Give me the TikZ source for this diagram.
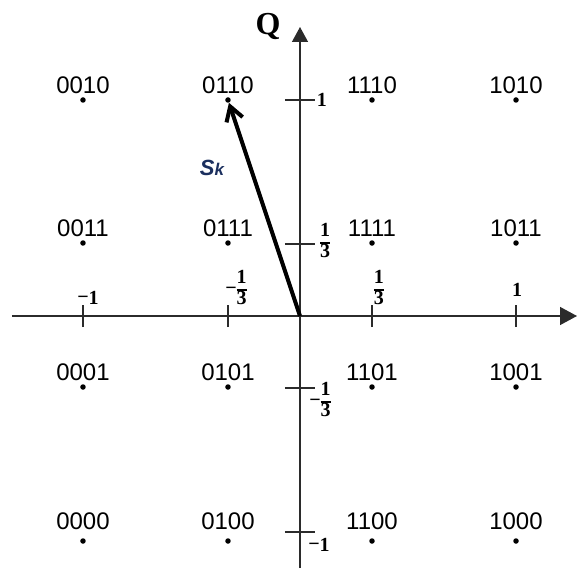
\documentclass[tikz,border=0pt]{standalone}
\usepackage{fontspec}
\setmainfont{Liberation Serif}
\newfontfamily\cwfont{Liberation Sans}
\usetikzlibrary{arrows.meta}
\definecolor{SkBlue}{HTML}{1B2F5E}
\definecolor{AxisGray}{HTML}{2B2B2B}
\newcommand{\stackfrac}[2]{\renewcommand{\arraystretch}{1.0}\setlength{\arrayrulewidth}{1.4pt}\begin{tabular}{@{}c@{}}#1\\\hline #2\end{tabular}}
\newcommand{\negsign}{\raisebox{1pt}{\char"2212}}
\tikzset{
  axisline/.style={line width=1.4pt, AxisGray},
  tickmark/.style={line width=1.2pt, AxisGray},
  sym/.style={circle, fill=black, inner sep=0pt, minimum size=5.5pt},
  cw/.style={font=\cwfont\fontsize{24}{24}\selectfont, inner sep=0pt, label distance=3pt},
  ticklbl/.style={font=\fontsize{20}{20}\selectfont\bfseries, inner sep=0pt},
  fraclbl/.style={font=\fontsize{20}{20}\selectfont\bfseries, inner sep=0pt},
  vec/.style={line width=4pt, -{Straight Barb[length=14pt,width=17pt]}}
}

\begin{document}
\begin{tikzpicture}[x=1pt, y=1pt]
\useasboundingbox (-300,-252) rectangle (281,316);

% axes
\coordinate (o) at (0,0);
\coordinate (xl) at (-288,0);
\coordinate (xr) at (277,0);
\coordinate (yb) at (0,-252);
\coordinate (yt) at (0,289);
\draw[axisline, -{Triangle[length=17pt,width=18pt]}] (xl) -- (xr);
\draw[axisline, -{Triangle[length=15pt,width=16pt]}] (yb) -- (yt);
\node[font=\fontsize{32}{32}\selectfont\bfseries, inner sep=0pt] (qlbl) at (-32,289) {Q};

% ticks on I
\draw[tickmark] (-217,-11) -- (-217,11);
\draw[tickmark] (-72,-11) -- (-72,11);
\draw[tickmark] (72,-11) -- (72,11);
\draw[tickmark] (216,-11) -- (216,11);
\node[ticklbl] (im1) at (-212,18) {\negsign 1};
\node[fraclbl] (im3) at (-64,26) {\negsign\stackfrac{1}{3}};
\node[fraclbl] (ip3) at (79,26) {\stackfrac{1}{3}};
\node[ticklbl] (ip1) at (217,26) {1};

% ticks on Q
\draw[tickmark] (-15,216) -- (15,216);
\draw[tickmark] (-15,72) -- (15,72);
\draw[tickmark] (-15,-72) -- (15,-72);
\draw[tickmark] (-15,-216) -- (15,-216);
\node[ticklbl] (qp1) at (22,216) {1};
\node[fraclbl] (qp3) at (25,73) {\stackfrac{1}{3}};
\node[fraclbl] (qm3) at (20,-86) {\negsign\stackfrac{1}{3}};
\node[ticklbl] (qm1) at (19,-229) {\negsign 1};

% constellation
\node[sym, label={[cw]above:0010}] (s0010) at (-217,216) {};
\node[sym, label={[cw]above:0110}] (s0110) at (-72,216) {};
\node[sym, label={[cw]above:1110}] (s1110) at (72,216) {};
\node[sym, label={[cw]above:1010}] (s1010) at (216,216) {};
\node[sym, label={[cw]above:0011}] (s0011) at (-217,73) {};
\node[sym, label={[cw]above:0111}] (s0111) at (-72,73) {};
\node[sym, label={[cw]above:1111}] (s1111) at (72,73) {};
\node[sym, label={[cw]above:1011}] (s1011) at (216,73) {};
\node[sym, label={[cw]above:0001}] (s0001) at (-217,-71) {};
\node[sym, label={[cw]above:0101}] (s0101) at (-72,-71) {};
\node[sym, label={[cw]above:1101}] (s1101) at (72,-71) {};
\node[sym, label={[cw]above:1001}] (s1001) at (216,-71) {};
\node[sym, label={[cw, label distance=8pt]above:0000}] (s0000) at (-217,-225) {};
\node[sym, label={[cw, label distance=8pt]above:0100}] (s0100) at (-72,-225) {};
\node[sym, label={[cw, label distance=8pt]above:1100}] (s1100) at (72,-225) {};
\node[sym, label={[cw, label distance=8pt]above:1000}] (s1000) at (216,-225) {};

% symbol vector
\draw[vec] (o) -- (s0110);
\node[text=SkBlue, font=\cwfont\bfseries\itshape\fontsize{22}{22}\selectfont] (sk) at (-88,148) {S{\fontsize{17}{17}\selectfont k}};
\end{tikzpicture}
\end{document}
